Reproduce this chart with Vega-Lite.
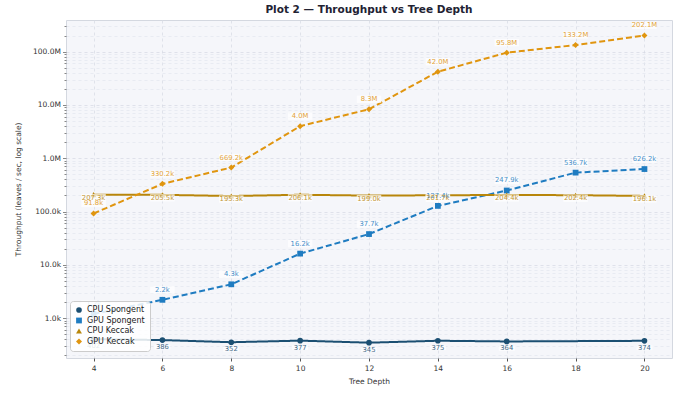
{
  "$schema": "https://vega.github.io/schema/vega-lite/v6.json",
  "width": 606,
  "height": 338,
  "autosize": {"type": "none"},
  "padding": {"left": 66, "top": 20, "right": 6, "bottom": 36},
  "background": "white",
  "title": {"text": "Plot 2 — Throughput vs Tree Depth", "font": "DejaVu Sans", "fontSize": 10.5, "fontWeight": "bold", "color": "#222233", "offset": 5, "anchor": "middle"},
  "config": {
    "view": {"fill": "#f5f6fa", "stroke": "#d4d8e0", "strokeWidth": 1},
    "font": "DejaVu Sans",
    "axis": {"labelFont": "DejaVu Sans", "titleFont": "DejaVu Sans", "labelFontSize": 7.5, "titleFontSize": 7.5, "titleFontWeight": "normal", "labelColor": "#333333", "titleColor": "#333333", "domain": false, "tickColor": "#555555"}
  },
  "data": {"values": [
    {"depth": 4, "series": "CPU Spongent", "value": 402, "label": "402"},
    {"depth": 6, "series": "CPU Spongent", "value": 386, "label": "386"},
    {"depth": 8, "series": "CPU Spongent", "value": 352, "label": "352"},
    {"depth": 10, "series": "CPU Spongent", "value": 377, "label": "377"},
    {"depth": 12, "series": "CPU Spongent", "value": 345, "label": "345"},
    {"depth": 14, "series": "CPU Spongent", "value": 375, "label": "375"},
    {"depth": 16, "series": "CPU Spongent", "value": 364, "label": "364"},
    {"depth": 20, "series": "CPU Spongent", "value": 374, "label": "374"},
    {"depth": 4, "series": "GPU Spongent", "value": 1190, "label": "1.2k"},
    {"depth": 6, "series": "GPU Spongent", "value": 2200, "label": "2.2k"},
    {"depth": 8, "series": "GPU Spongent", "value": 4300, "label": "4.3k"},
    {"depth": 10, "series": "GPU Spongent", "value": 16200, "label": "16.2k"},
    {"depth": 12, "series": "GPU Spongent", "value": 37700, "label": "37.7k"},
    {"depth": 14, "series": "GPU Spongent", "value": 127400, "label": "127.4k"},
    {"depth": 16, "series": "GPU Spongent", "value": 247900, "label": "247.9k"},
    {"depth": 18, "series": "GPU Spongent", "value": 536700, "label": "536.7k"},
    {"depth": 20, "series": "GPU Spongent", "value": 626200, "label": "626.2k"},
    {"depth": 4, "series": "CPU Keccak", "value": 207300, "label": "207.3k"},
    {"depth": 6, "series": "CPU Keccak", "value": 205500, "label": "205.5k"},
    {"depth": 8, "series": "CPU Keccak", "value": 195300, "label": "195.3k"},
    {"depth": 10, "series": "CPU Keccak", "value": 206100, "label": "206.1k"},
    {"depth": 12, "series": "CPU Keccak", "value": 199000, "label": "199.0k"},
    {"depth": 14, "series": "CPU Keccak", "value": 201700, "label": "201.7k"},
    {"depth": 16, "series": "CPU Keccak", "value": 204400, "label": "204.4k"},
    {"depth": 18, "series": "CPU Keccak", "value": 202400, "label": "202.4k"},
    {"depth": 20, "series": "CPU Keccak", "value": 196100, "label": "196.1k"},
    {"depth": 4, "series": "GPU Keccak", "value": 91800, "label": "91.8k"},
    {"depth": 6, "series": "GPU Keccak", "value": 330200, "label": "330.2k"},
    {"depth": 8, "series": "GPU Keccak", "value": 669200, "label": "669.2k"},
    {"depth": 10, "series": "GPU Keccak", "value": 4000000, "label": "4.0M"},
    {"depth": 12, "series": "GPU Keccak", "value": 8300000, "label": "8.3M"},
    {"depth": 14, "series": "GPU Keccak", "value": 42000000, "label": "42.0M"},
    {"depth": 16, "series": "GPU Keccak", "value": 95800000, "label": "95.8M"},
    {"depth": 18, "series": "GPU Keccak", "value": 133200000, "label": "133.2M"},
    {"depth": 20, "series": "GPU Keccak", "value": 202100000, "label": "202.1M"}
  ]},
  "encoding": {
    "x": {"field": "depth", "type": "quantitative", "title": "Tree Depth",
      "scale": {"domain": [3.2, 20.8], "nice": false, "zero": false},
      "axis": {"values": [4, 6, 8, 10, 12, 14, 16, 18, 20], "grid": true, "gridColor": "#d9dde6", "gridDash": [3, 3], "gridWidth": 0.8, "tickSize": 3, "labelPadding": 3, "titlePadding": 6}},
    "y": {"field": "value", "type": "quantitative", "title": "Throughput (leaves / sec, log scale)",
      "scale": {"type": "log", "domain": [178, 393000000], "nice": false},
      "axis": {
        "values": [200,300,400,500,600,700,800,900,1000,2000,3000,4000,5000,6000,7000,8000,9000,10000,20000,30000,40000,50000,60000,70000,80000,90000,100000,200000,300000,400000,500000,600000,700000,800000,900000,1000000,2000000,3000000,4000000,5000000,6000000,7000000,8000000,9000000,10000000,20000000,30000000,40000000,50000000,60000000,70000000,80000000,90000000,100000000,200000000,300000000],
        "labelExpr": "indexof([1000,10000,100000,1000000,10000000,100000000], datum.value) >= 0 ? (datum.value >= 1000000 ? format(datum.value/1000000, '.1f') + 'M' : format(datum.value/1000, '.1f') + 'k') : ''",
        "grid": true,
        "gridColor": {"condition": {"test": "indexof([1000,10000,100000,1000000,10000000,100000000], datum.value) >= 0", "value": "#d5d9e2"}, "value": "#e3e6ee"},
        "gridDash": [3, 3],
        "gridWidth": 0.7,
        "tickSize": {"condition": {"test": "indexof([1000,10000,100000,1000000,10000000,100000000], datum.value) >= 0", "value": 3.5}, "value": 2},
        "tickWidth": 0.7,
        "labelPadding": 2,
        "titlePadding": 10,
        "labelOverlap": false
      }},
    "color": {"field": "series", "type": "nominal",
      "scale": {"domain": ["CPU Spongent", "GPU Spongent", "CPU Keccak", "GPU Keccak"], "range": ["#1b4f72", "#1f7cc1", "#b8860b", "#e0950f"]},
      "legend": {"title": null, "orient": "none", "legendX": 4, "legendY": 281, "fillColor": "rgba(255,255,255,0.85)", "strokeColor": "#cccccc", "padding": 5, "cornerRadius": 3, "labelFontSize": 8, "labelColor": "#222222", "rowPadding": 2.5, "symbolSize": 40, "symbolStrokeWidth": 0}}
  },
  "layer": [
    {"mark": {"type": "line", "strokeWidth": 2},
      "encoding": {"strokeDash": {"field": "series", "type": "nominal", "scale": {"domain": ["CPU Spongent", "GPU Spongent", "CPU Keccak", "GPU Keccak"], "range": [[1, 0], [6, 3], [1, 0], [6, 3]]}, "legend": null}}},
    {"mark": {"type": "point", "filled": true, "opacity": 1},
      "encoding": {
        "shape": {"field": "series", "type": "nominal", "scale": {"domain": ["CPU Spongent", "GPU Spongent", "CPU Keccak", "GPU Keccak"], "range": ["circle", "square", "triangle-up", "diamond"]}, "legend": {"title": null}},
        "size": {"field": "series", "type": "nominal", "scale": {"domain": ["CPU Spongent", "GPU Spongent", "CPU Keccak", "GPU Keccak"], "range": [32, 36, 18, 55]}, "legend": null}}},
    {"transform": [{"filter": "datum.series === 'GPU Keccak' || datum.series === 'GPU Spongent'"}],
      "mark": {"type": "point", "shape": "M-1,-0.3H1V0.3H-1Z", "size": 600, "filled": true, "color": "white", "opacity": 0.7, "strokeWidth": 0, "yOffset": -10},
      "encoding": {"color": {"value": "white"}}},
    {"transform": [{"filter": "datum.series === 'CPU Keccak'"}],
      "mark": {"type": "point", "shape": "M-1,-0.3H1V0.3H-1Z", "size": 600, "filled": true, "color": "white", "opacity": 0.7, "strokeWidth": 0, "yOffset": 3},
      "encoding": {"color": {"value": "white"}}},
    {"transform": [{"filter": "datum.series === 'CPU Spongent'"}],
      "mark": {"type": "point", "shape": "M-1,-0.3H1V0.3H-1Z", "size": 256, "filled": true, "color": "white", "opacity": 0.7, "strokeWidth": 0, "yOffset": 7},
      "encoding": {"color": {"value": "white"}}},
    {"transform": [{"filter": "datum.series === 'GPU Keccak' || datum.series === 'GPU Spongent'"}],
      "mark": {"type": "text", "fontSize": 6.8, "dy": -10, "baseline": "middle", "opacity": 0.85},
      "encoding": {"text": {"field": "label"}}},
    {"transform": [{"filter": "datum.series === 'CPU Keccak'"}],
      "mark": {"type": "text", "fontSize": 6.8, "dy": 3, "baseline": "middle", "opacity": 0.85},
      "encoding": {"text": {"field": "label"}}},
    {"transform": [{"filter": "datum.series === 'CPU Spongent'"}],
      "mark": {"type": "text", "fontSize": 6.8, "dy": 7, "baseline": "middle", "opacity": 0.85},
      "encoding": {"text": {"field": "label"}}}
  ]
}
